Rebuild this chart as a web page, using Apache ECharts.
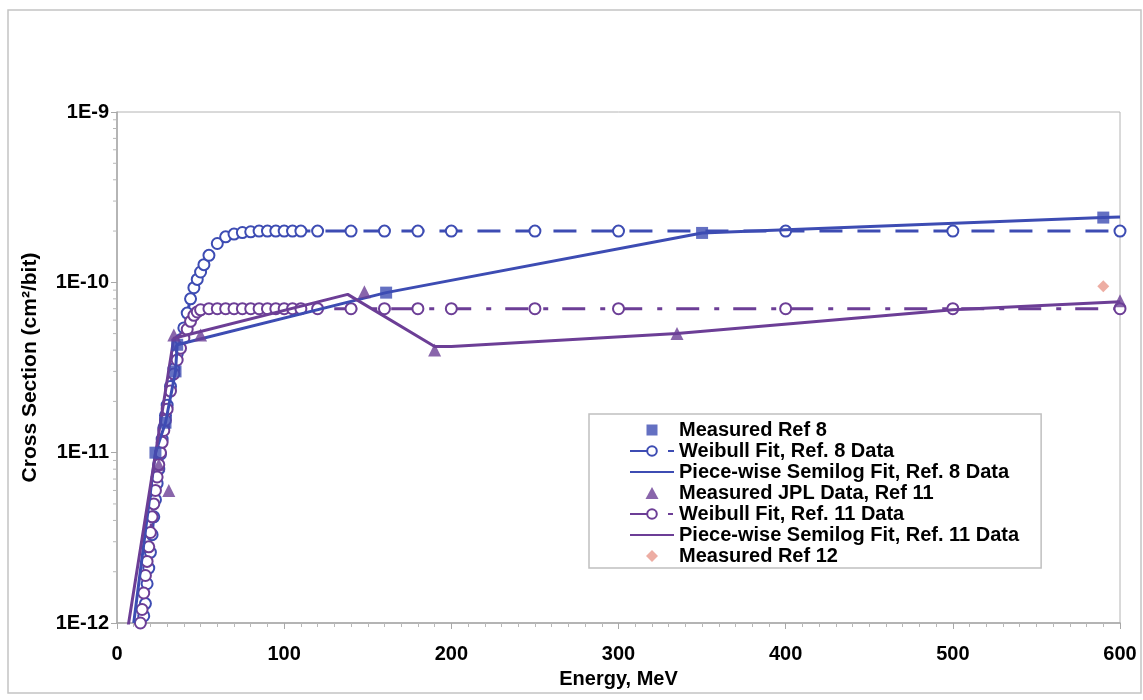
<!DOCTYPE html>
<html><head><meta charset="utf-8">
<script src="https://cdn.jsdelivr.net/npm/echarts@6/dist/echarts.min.js"></script>
<style>html,body{margin:0;padding:0;background:#fff}#c{width:1143px;height:700px}</style>
</head><body><div id="c"></div>
<script>
// ---- data ----
const xTicks = [0, 100, 200, 300, 400, 500, 600];
const yTickLabels = ['1E-12', '1E-11', '1E-10', '1E-9'];

const ref8E = [23, 29, 35, 36, 161, 350, 590];
const ref8 = [1.0e-11, 1.5e-11, 3.0e-11, 4.3e-11, 8.7e-11, 1.95e-10, 2.4e-10];

const weibull8E = [16,17,18,19,20,21,22,23,24,25,26,27,28,29,30,32,34,36,38,40,42,44,46,48,50,52,55,60,65,70,75,80,85,90,95,100,105,110,120,140,160,180,200,250,300,400,500,600];
const weibull8 = [1.1e-12,1.3e-12,1.7e-12,2.1e-12,2.6e-12,3.3e-12,4.2e-12,5.3e-12,6.6e-12,8.0e-12,9.8e-12,1.2e-11,1.4e-11,1.65e-11,1.9e-11,2.45e-11,3.1e-11,3.8e-11,4.6e-11,5.4e-11,6.6e-11,8.0e-11,9.3e-11,1.04e-10,1.15e-10,1.27e-10,1.44e-10,1.69e-10,1.85e-10,1.92e-10,1.96e-10,1.98e-10,2.0e-10,2.0e-10,2.0e-10,2.0e-10,2.0e-10,2.0e-10,2.0e-10,2.0e-10,2.0e-10,2.0e-10,2.0e-10,2.0e-10,2.0e-10,2.0e-10,2.0e-10,2.0e-10];

const fit8E = [10, 23, 29, 35, 36, 161, 350, 590, 600];
const fit8 = [1.0e-12, 1.0e-11, 1.5e-11, 3.0e-11, 4.3e-11, 8.7e-11, 1.95e-10, 2.4e-10, 2.42e-10];

const jplE = [25, 31, 34, 50, 148, 190, 335, 600];
const jpl = [8.5e-12, 6.0e-12, 4.9e-11, 4.9e-11, 8.8e-11, 4.0e-11, 5.0e-11, 7.8e-11];

const weibull11E = [14,15,16,17,18,19,20,21,22,23,24,25,26,27,28,29,30,32,34,36,38,40,42,44,46,48,50,55,60,65,70,75,80,85,90,95,100,105,110,120,140,160,180,200,250,300,400,500,600];
const weibull11 = [1.0e-12,1.2e-12,1.5e-12,1.9e-12,2.3e-12,2.8e-12,3.4e-12,4.2e-12,5.0e-12,6.0e-12,7.2e-12,8.5e-12,1.0e-11,1.15e-11,1.35e-11,1.55e-11,1.8e-11,2.3e-11,2.9e-11,3.5e-11,4.1e-11,4.7e-11,5.3e-11,5.9e-11,6.4e-11,6.7e-11,6.9e-11,7.0e-11,7.0e-11,7.0e-11,7.0e-11,7.0e-11,7.0e-11,7.0e-11,7.0e-11,7.0e-11,7.0e-11,7.0e-11,7.0e-11,7.0e-11,7.0e-11,7.0e-11,7.0e-11,7.0e-11,7.0e-11,7.0e-11,7.0e-11,7.0e-11,7.0e-11];

const fit11E = [6, 34, 138, 190, 200, 335, 500, 600];
const fit11 = [8.7e-13, 4.7e-11, 8.5e-11, 4.2e-11, 4.2e-11, 5.0e-11, 6.9e-11, 7.7e-11];

const ref12E = [590];
const ref12 = [9.5e-11];

const yMinorTicks = [2,3,4,5,6,7,8,9].flatMap(m => [1e-12, 1e-11, 1e-10].map(d => m * d));

// ---- chart ----
const BLUE = '#3d4cb3';
const PURPLE = '#6c3e96';
const PINK = '#e8998c';
const FONT = '"Liberation Sans", Arial, sans-serif';
const zip = (a, b) => a.map((v, i) => [v, b[i]]);
// legend icons: a 44x12 frame (invisible corner points) with the marker centred in it
const FRAME = 'M0,0 L0,0 M44,12 L44,12 ';
const ICON_SQUARE = 'path://' + FRAME + 'M16.5,0.5 L27.5,0.5 L27.5,11.5 L16.5,11.5 Z';
const ICON_TRIANGLE = 'path://' + FRAME + 'M22,0 L28.5,12 L15.5,12 Z';
const ICON_DIAMOND = 'path://' + FRAME + 'M22,0 L28,6 L22,12 L16,6 Z';

const chart = echarts.init(document.getElementById('c'), null, { renderer: 'canvas' });
chart.setOption({
  animation: false,
  backgroundColor: '#fff',
  textStyle: { fontFamily: FONT },
  graphic: [{
    type: 'rect', shape: { x: 8, y: 10, width: 1133, height: 683 },
    style: { fill: 'none', stroke: '#c4c4c4', lineWidth: 1.5 }, silent: true, z: -1
  }],
  grid: { left: 117, right: 23, top: 112, bottom: 77, show: true, borderColor: '#b4b4b4', borderWidth: 1 },
  xAxis: {
    type: 'value', min: xTicks[0], max: xTicks[xTicks.length - 1], interval: 100,
    name: 'Energy, MeV', nameLocation: 'middle', nameGap: 46,
    nameTextStyle: { fontFamily: FONT, fontWeight: 'bold', fontSize: 20, color: '#000' },
    axisLine: { lineStyle: { color: '#a8a8a8', width: 1.5 } },
    axisTick: { length: 6, lineStyle: { color: '#a8a8a8' } },
    minorTick: { show: true, splitNumber: 10, length: 4, lineStyle: { color: '#b8b8b8' } },
    splitLine: { show: false },
    axisLabel: { fontFamily: FONT, fontWeight: 'bold', fontSize: 20, color: '#000', margin: 21 }
  },
  yAxis: {
    type: 'log', logBase: 10, min: 1e-12, max: 1e-9,
    name: 'Cross Section (cm²/bit)', nameLocation: 'middle', nameGap: 76,
    nameTextStyle: { fontFamily: FONT, fontWeight: 'bold', fontSize: 21, color: '#000' },
    axisLine: { show: true, lineStyle: { color: '#a8a8a8', width: 1.5 } },
    axisTick: { show: true, length: 6, lineStyle: { color: '#a8a8a8' } },
    splitLine: { show: false },
    axisLabel: {
      fontFamily: FONT, fontWeight: 'bold', fontSize: 20, color: '#000', margin: 8,
      formatter: v => yTickLabels[Math.round(Math.log10(v)) + 12]
    }
  },
  legend: {
    orient: 'vertical', left: 589, top: 414,
    backgroundColor: '#fff', borderColor: '#c0c0c0', borderWidth: 1.5,
    padding: [6, 22, 2, 40], itemGap: 1, itemWidth: 44, itemHeight: 12,
    textStyle: { fontFamily: FONT, fontWeight: 'bold', fontSize: 20, color: '#000', lineHeight: 20 },
    data: [
      { name: 'Measured Ref 8', icon: ICON_SQUARE },
      'Weibull Fit, Ref. 8 Data',
      { name: 'Piece-wise Semilog Fit, Ref. 8 Data', itemStyle: { opacity: 0 } },
      { name: 'Measured JPL Data, Ref 11', icon: ICON_TRIANGLE },
      'Weibull Fit, Ref. 11 Data',
      { name: 'Piece-wise Semilog Fit, Ref. 11 Data', itemStyle: { opacity: 0 } },
      { name: 'Measured Ref 12', icon: ICON_DIAMOND }
    ]
  },
  series: [
    {
      name: 'Measured Ref 8', type: 'scatter', data: zip(ref8E, ref8),
      symbol: 'rect', symbolSize: 12, itemStyle: { color: BLUE }, z: 5
    },
    {
      name: 'Weibull Fit, Ref. 8 Data', type: 'line', data: zip(weibull8E, weibull8),
      symbol: 'emptyCircle', symbolSize: 11, showAllSymbol: true,
      lineStyle: { color: BLUE, width: 3, type: [23, 15] },
      itemStyle: { color: BLUE, borderWidth: 1.5 }, z: 2
    },
    {
      name: 'Piece-wise Semilog Fit, Ref. 8 Data', type: 'line', data: zip(fit8E, fit8),
      symbol: 'circle', showSymbol: false, symbolSize: 0,
      lineStyle: { color: BLUE, width: 3 }, itemStyle: { color: BLUE }, z: 3
    },
    {
      name: 'Measured JPL Data, Ref 11', type: 'scatter', data: zip(jplE, jpl),
      symbol: 'triangle', symbolSize: 13, itemStyle: { color: PURPLE }, z: 5
    },
    {
      name: 'Weibull Fit, Ref. 11 Data', type: 'line', data: zip(weibull11E, weibull11),
      symbol: 'emptyCircle', symbolSize: 11, showAllSymbol: true,
      lineStyle: { color: PURPLE, width: 3, type: [23, 15, 5, 14] },
      itemStyle: { color: PURPLE, borderWidth: 1.5 }, z: 2
    },
    {
      name: 'Piece-wise Semilog Fit, Ref. 11 Data', type: 'line', data: zip(fit11E, fit11),
      symbol: 'circle', showSymbol: false, symbolSize: 0,
      lineStyle: { color: PURPLE, width: 3 }, itemStyle: { color: PURPLE }, z: 3
    },
    {
      name: 'Measured Ref 12', type: 'scatter', data: zip(ref12E, ref12),
      symbol: 'diamond', symbolSize: 12, itemStyle: { color: PINK }, z: 5
    },
    {
      name: 'yMinorTicks', type: 'custom', silent: true, z: 1,
      data: yMinorTicks.map(v => [0, v]),
      renderItem: (params, api) => {
        const p = api.coord([api.value(0), api.value(1)]);
        return { type: 'line', shape: { x1: p[0] - 4, y1: p[1], x2: p[0], y2: p[1] },
                 style: { stroke: '#b8b8b8', lineWidth: 1 } };
      }
    }
  ]
});
</script></body></html>
